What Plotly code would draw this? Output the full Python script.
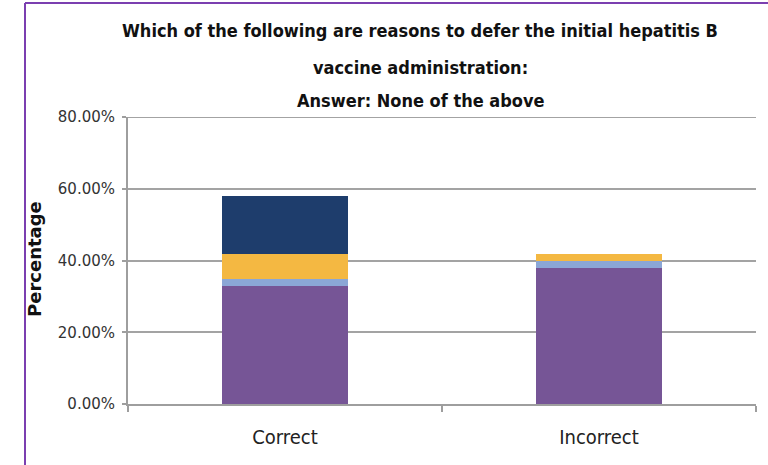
import plotly.graph_objects as go

# Survey answers, stacked by response group (percent of respondents)
categories = ["Correct", "Incorrect"]
series_names = ["Group 1", "Group 2", "Group 3", "Group 4"]
group1 = [32.9, 38.0]
group2 = [1.9, 2.0]
group3 = [7.0, 1.9]
group4 = [16.3, 0.0]
colors = ["#765596", "#8BA7D6", "#F4B842", "#1E3D6C"]

title_lines = [
    "Which of the following are reasons to defer the initial hepatitis B",
    "vaccine administration:",
    "Answer: None of the above",
]
y_ticks = [0, 20, 40, 60, 80]
y_labels = ["0.00%", "20.00%", "40.00%", "60.00%", "80.00%"]

FONT = "DejaVu Sans Condensed, Liberation Sans, Arial, sans-serif"
WIDE = "DejaVu Sans, Liberation Sans, Arial, sans-serif"

# plot area in pixels: x 128..756, y 117..404
L, R, T, B = 128, 756, 117, 404
W, H = R - L, B - T


def px(x):
    return (x - L) / W


def py(y):
    return (B - y) / H


fig = go.Figure()
for name, vals, col in zip(series_names, [group1, group2, group3, group4], colors):
    fig.add_trace(go.Bar(
        x=categories, y=vals, name=name,
        marker=dict(color=col, line=dict(width=0)),
        showlegend=False,
    ))

fig.update_layout(
    width=768, height=465,
    barmode="stack",
    bargap=0.6,
    plot_bgcolor="white",
    paper_bgcolor="white",
    margin=dict(l=L, r=768 - R, t=T, b=465 - B),
    font=dict(family=FONT, color="#222222"),
    xaxis=dict(
        type="category",
        showline=True, linecolor="#9E9E9E", linewidth=2,
        ticks="outside", tickson="boundaries", ticklen=6,
        tickcolor="#9E9E9E", tickwidth=2,
        tickfont=dict(size=20, color="#222222"),
        ticklabelstandoff=14,
        showgrid=False,
    ),
    yaxis=dict(
        range=[0, 80],
        tickvals=y_ticks, ticktext=y_labels,
        showline=True, linecolor="#9E9E9E", linewidth=2,
        ticks="outside", ticklen=4, tickcolor="#9E9E9E", tickwidth=2,
        showgrid=True, gridcolor="#A3A3A3", gridwidth=2,
        zeroline=False,
        tickfont=dict(family=WIDE, size=15, color="#333333"),
        ticklabelstandoff=4,
    ),
)

# Top gridline at the axis maximum
fig.add_shape(type="line", xref="paper", yref="y",
              x0=0, x1=1, y0=y_ticks[-1], y1=y_ticks[-1],
              line=dict(color="#A3A3A3", width=2))

# Three-line bold title
for text, yc in zip(title_lines, [30, 67, 100]):
    fig.add_annotation(
        text=f"<b>{text}</b>", xref="paper", yref="paper",
        x=px(420), y=py(yc), xanchor="center", yanchor="middle",
        showarrow=False, font=dict(family=FONT, size=18, color="#111111"),
    )

# Y-axis title
fig.add_annotation(
    text="<b>Percentage</b>", xref="paper", yref="paper",
    x=px(34), y=py(259), xanchor="center", yanchor="middle",
    textangle=-90, showarrow=False,
    font=dict(family=WIDE, size=18, color="#111111"),
)

# Purple frame along the left and top edges of the figure
fig.add_shape(type="line", xref="paper", yref="paper",
              x0=px(25), x1=px(770), y0=py(3), y1=py(3),
              line=dict(color="#7B3FB0", width=2))
fig.add_shape(type="line", xref="paper", yref="paper",
              x0=px(25), x1=px(25), y0=py(3), y1=py(470),
              line=dict(color="#7B3FB0", width=2))

fig.write_html("out.html")
